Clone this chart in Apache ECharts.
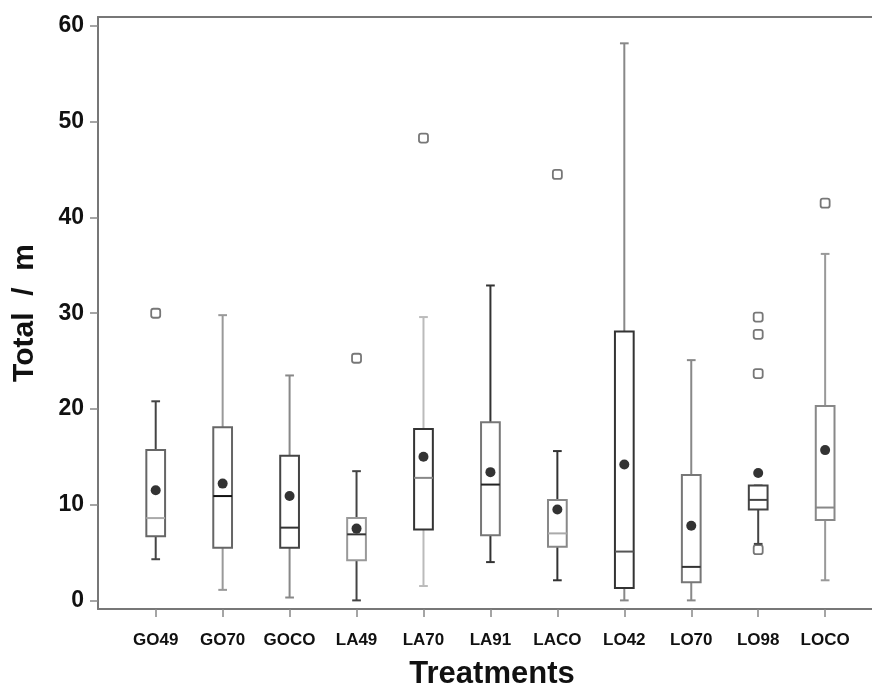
<!DOCTYPE html>
<html>
<head>
<meta charset="utf-8">
<script src="https://cdn.jsdelivr.net/npm/echarts@6/dist/echarts.min.js"></script>
<style>html,body{margin:0;padding:0;background:#fff;}#chart{width:872px;height:689px;}</style>
</head>
<body>
<div id="chart"></div>
<script>
// ---- data ----
var categories = ['GO49','GO70','GOCO','LA49','LA70','LA91','LACO','LO42','LO70','LO98','LOCO'];
// [min (lower whisker), Q1, median, Q3, max (upper whisker)]
var boxValues = [
  [4.3, 6.7, 8.6, 15.7, 20.8],
  [1.1, 5.5, 10.9, 18.1, 29.8],
  [0.3, 5.5, 7.6, 15.1, 23.5],
  [0.0, 4.2, 6.9, 8.6, 13.5],
  [1.5, 7.4, 12.8, 17.9, 29.6],
  [4.0, 6.8, 12.1, 18.6, 32.9],
  [2.1, 5.6, 7.0, 10.5, 15.6],
  [0.0, 1.3, 5.1, 28.1, 58.2],
  [0.0, 1.9, 3.5, 13.1, 25.1],
  [5.9, 9.5, 10.5, 12.0, 12.0],
  [2.1, 8.4, 9.7, 20.3, 36.2]
];
var meanValues = [11.5, 12.2, 10.9, 7.5, 15.0, 13.4, 9.5, 14.2, 7.8, 13.3, 15.7];
// outliers: [category index, value]
var outlierValues = [
  [0, 30.0],
  [3, 25.3],
  [4, 48.3],
  [6, 44.5],
  [9, 29.6], [9, 27.8], [9, 23.7], [9, 5.3],
  [10, 41.5]
];
var yTickValues = [0, 10, 20, 30, 40, 50, 60];

// ---- styles (per box) ----
var boxStyles = [
  {box:'#666', med:'#aaa', wh:'#444'},
  {box:'#666', med:'#111', wh:'#999'},
  {box:'#444', med:'#333', wh:'#888'},
  {box:'#999', med:'#333', wh:'#444'},
  {box:'#333', med:'#888', wh:'#bbb'},
  {box:'#777', med:'#222', wh:'#333'},
  {box:'#888', med:'#aaa', wh:'#333'},
  {box:'#333', med:'#555', wh:'#888'},
  {box:'#777', med:'#333', wh:'#888'},
  {box:'#444', med:'#444', wh:'#444'},
  {box:'#888', med:'#888', wh:'#999'}
];

var boxData = boxValues.map(function (v, i) { return [i].concat(v); });
var meanData = meanValues.map(function (v, i) { return [i, v]; });
var catIndex = categories.map(function (c, i) { return i; });

function renderBox(params, api) {
  var i = api.value(0);
  var mn = api.value(1), q1 = api.value(2), md = api.value(3), q3 = api.value(4), mx = api.value(5);
  var band = api.size([1, 0])[0];
  var halfBox = band * 0.14;
  var halfCap = band * 0.065;
  var pMin = api.coord([i, mn]), pQ1 = api.coord([i, q1]), pMd = api.coord([i, md]),
      pQ3 = api.coord([i, q3]), pMx = api.coord([i, mx]);
  var x = pMin[0];
  var st = boxStyles[params.dataIndex];
  var lw = 2;
  var children = [
    {type:'line', shape:{x1:x, y1:pMin[1], x2:x, y2:pQ1[1]}, style:{stroke:st.wh, lineWidth:lw}},
    {type:'line', shape:{x1:x, y1:pQ3[1], x2:x, y2:pMx[1]}, style:{stroke:st.wh, lineWidth:lw}},
    {type:'line', shape:{x1:x-halfCap, y1:pMin[1], x2:x+halfCap, y2:pMin[1]}, style:{stroke:st.wh, lineWidth:lw}},
    {type:'line', shape:{x1:x-halfCap, y1:pMx[1], x2:x+halfCap, y2:pMx[1]}, style:{stroke:st.wh, lineWidth:lw}},
    {type:'rect', shape:{x:x-halfBox, y:pQ3[1], width:halfBox*2, height:pQ1[1]-pQ3[1]}, style:{fill:'#fff', stroke:st.box, lineWidth:lw}},
    {type:'line', shape:{x1:x-halfBox, y1:pMd[1], x2:x+halfBox, y2:pMd[1]}, style:{stroke:st.med, lineWidth:lw}}
  ];
  return {type:'group', children:children};
}

var chart = echarts.init(document.getElementById('chart'), null, {renderer:'canvas'});
var axisGray = '#777';
var font = 'Liberation Sans, Arial, sans-serif';
chart.setOption({
  animation: false,
  backgroundColor: '#fff',
  grid: {left: 98, right: 0, top: 17, bottom: 80, containLabel: false, outerBoundsMode: 'none'},
  xAxis: [{
    type: 'value',
    min: -0.862, max: 10.70,
    splitLine: {show: false},
    axisLine: {show: true, onZero: false, lineStyle: {color: axisGray, width: 2}},
    axisTick: {show: true, customValues: catIndex, length: 8, lineStyle: {color: '#888', width: 1.5}},
    axisLabel: {
      customValues: catIndex, margin: 23,
      formatter: function (v) { return categories[Math.round(v)]; },
      fontFamily: font, fontWeight: 'bold', fontSize: 17, color: '#111'
    },
    name: 'Treatments', nameLocation: 'middle', nameGap: 50,
    nameTextStyle: {fontFamily: font, fontWeight: 'bold', fontSize: 31, color: '#111', padding: [0, 0, 0, 14]}
  }, {
    type: 'value', position: 'top',
    min: -0.862, max: 10.70,
    splitLine: {show: false}, axisTick: {show: false}, axisLabel: {show: false},
    axisLine: {show: true, onZero: false, lineStyle: {color: axisGray, width: 2}}
  }],
  yAxis: {
    type: 'value',
    min: -0.9, max: 60.95,
    splitLine: {show: false},
    axisLine: {show: true, onZero: false, lineStyle: {color: axisGray, width: 2}},
    axisTick: {show: true, customValues: yTickValues, length: 8, lineStyle: {color: '#888', width: 1.5}},
    axisLabel: {customValues: yTickValues, margin: 14,
      fontFamily: font, fontWeight: 'bold', fontSize: 23, color: '#111'},
    name: 'Total  /  m', nameLocation: 'middle', nameGap: 58,
    nameTextStyle: {fontFamily: font, fontWeight: 'bold', fontSize: 30, color: '#111'}
  },
  series: [{
    type: 'custom',
    renderItem: renderBox,
    data: boxData,
    encode: {x: 0, y: [1, 2, 3, 4, 5]},
    clip: false,
    z: 2
  }, {
    type: 'scatter',
    data: outlierValues,
    symbol: 'roundRect',
    symbolSize: 9,
    itemStyle: {color: '#fff', borderColor: '#555', borderWidth: 1.8},
    z: 3
  }, {
    type: 'scatter',
    data: meanData,
    symbol: 'circle',
    symbolSize: 10,
    itemStyle: {color: '#000'},
    z: 4
  }]
});
</script>
</body>
</html>
